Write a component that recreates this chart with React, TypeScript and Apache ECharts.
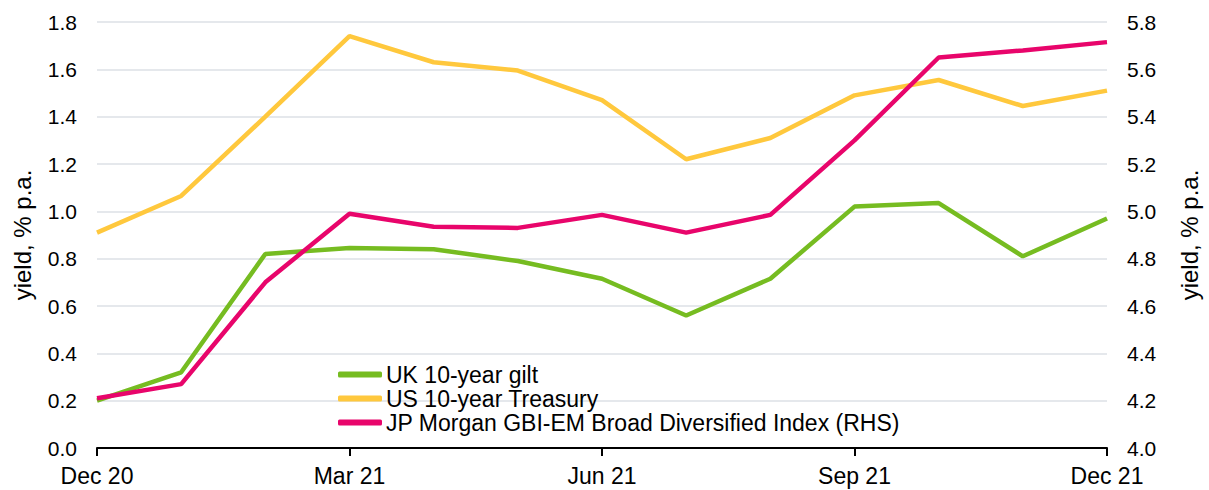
import React, { useEffect, useRef } from "react";
import * as echarts from "echarts";

const categories = ["Dec 20", "Jan 21", "Feb 21", "Mar 21", "Apr 21", "May 21", "Jun 21", "Jul 21", "Aug 21", "Sep 21", "Oct 21", "Nov 21", "Dec 21"];
const ukGilt = [0.2, 0.32, 0.82, 0.845, 0.84, 0.79, 0.715, 0.56, 0.715, 1.02, 1.035, 0.81, 0.97];
const usTreasury = [0.91, 1.065, 1.4, 1.74, 1.63, 1.595, 1.47, 1.22, 1.31, 1.49, 1.555, 1.445, 1.51];
const jpmGbiEm = [4.21, 4.27, 4.7, 4.99, 4.935, 4.93, 4.985, 4.91, 4.985, 5.3, 5.65, 5.68, 5.715];
const seriesNames = ["UK 10-year gilt", "US 10-year Treasury", "JP Morgan GBI-EM Broad Diversified Index (RHS)"];
const axisName = "yield, % p.a.";

const FONT = "'Liberation Sans', Arial, sans-serif";

export default function App() {
  const ref = useRef<HTMLDivElement>(null);
  useEffect(() => {
    if (!ref.current) return;
    const chart = echarts.init(ref.current, undefined, { renderer: "svg" });
    const labelStyle = { color: "#000", fontSize: 21, fontFamily: FONT };
    chart.setOption({
      animation: false,
      textStyle: { fontFamily: FONT },
      grid: { left: 97, right: 97, top: 22, bottom: 42 },
      legend: {
        orient: "vertical",
        left: 333,
        top: 358,
        itemWidth: 44,
        itemHeight: 6,
        itemGap: 1,
        icon: "roundRect",
        textStyle: { color: "#000", fontSize: 23, fontFamily: FONT, lineHeight: 23, padding: [0, 0, 0, -1] },
        data: seriesNames,
      },
      xAxis: {
        type: "category",
        data: categories,
        boundaryGap: false,
        axisLine: { lineStyle: { color: "#000", width: 2 } },
        axisTick: { show: true, interval: 2, length: 8, lineStyle: { color: "#000", width: 2 } },
        axisLabel: { color: "#000", fontSize: 23, fontFamily: FONT, interval: 2, margin: 16 },
        splitLine: { show: false },
      },
      yAxis: [
        {
          type: "value",
          min: 0,
          max: 1.8,
          interval: 0.2,
          name: axisName,
          nameLocation: "middle",
          nameGap: 63,
          nameTextStyle: { color: "#000", fontSize: 24, fontFamily: FONT },
          axisLine: { show: false },
          axisTick: { show: false },
          axisLabel: { ...labelStyle, margin: 20, formatter: (v: number) => v.toFixed(1) },
          splitLine: { lineStyle: { color: "#DCE1E6", width: 1.5 } },
        },
        {
          type: "value",
          min: 4.0,
          max: 5.8,
          interval: 0.2,
          name: axisName,
          nameLocation: "middle",
          nameGap: 70,
          nameTextStyle: { color: "#000", fontSize: 24, fontFamily: FONT },
          axisLine: { show: false },
          axisTick: { show: false },
          axisLabel: { ...labelStyle, margin: 20, formatter: (v: number) => v.toFixed(1) },
          splitLine: { show: false },
        },
      ],
      series: [
        {
          name: seriesNames[0],
          type: "line",
          data: ukGilt,
          yAxisIndex: 0,
          symbol: "none",
          lineStyle: { color: "#76BC21", width: 4.5 },
          itemStyle: { color: "#76BC21" },
          z: 3,
        },
        {
          name: seriesNames[1],
          type: "line",
          data: usTreasury,
          yAxisIndex: 0,
          symbol: "none",
          lineStyle: { color: "#FFC83D", width: 4.5 },
          itemStyle: { color: "#FFC83D" },
          z: 2,
        },
        {
          name: seriesNames[2],
          type: "line",
          data: jpmGbiEm,
          yAxisIndex: 1,
          symbol: "none",
          lineStyle: { color: "#E8056B", width: 4.5 },
          itemStyle: { color: "#E8056B" },
          z: 4,
        },
      ],
    });
    return () => chart.dispose();
  }, []);
  return <div ref={ref} style={{ width: 1209, height: 490, position: "absolute", left: 0, top: 0 }} />;
}
